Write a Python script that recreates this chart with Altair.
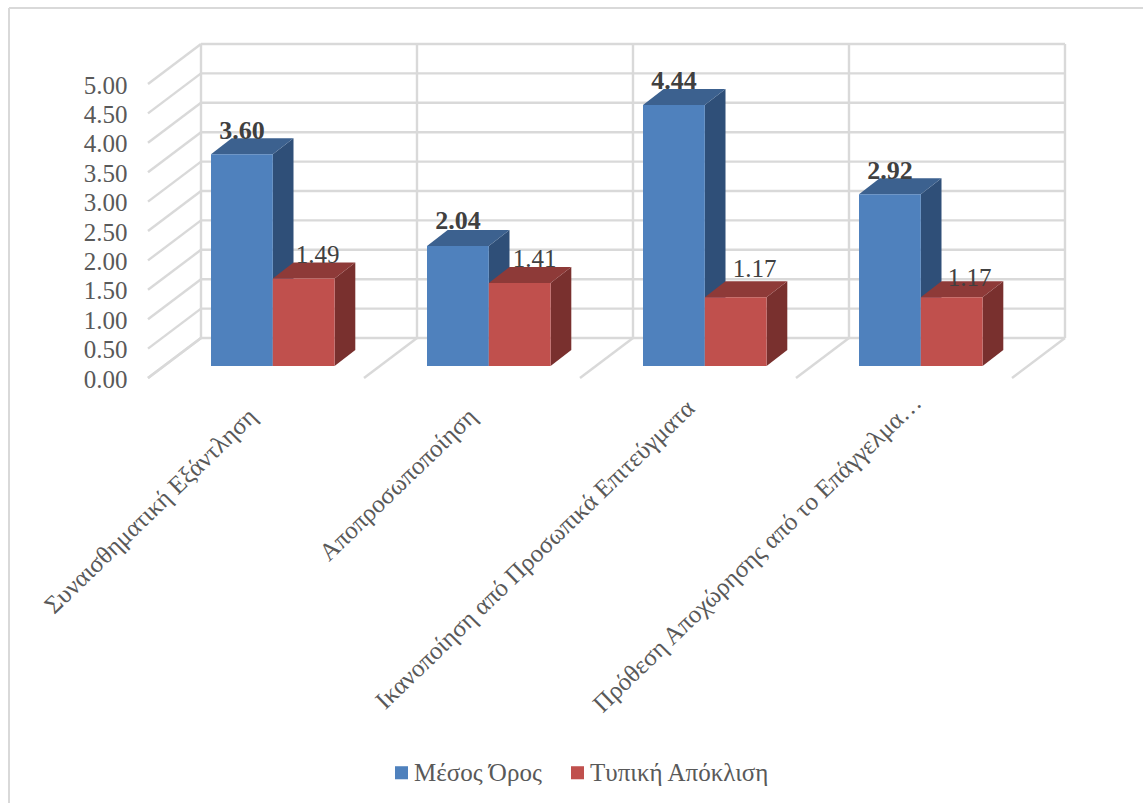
import json
import altair as alt
import pandas as pd

# Chart values
categories = [
    "Συναισθηματική Εξάντληση",
    "Αποπροσωποποίηση",
    "Ικανοποίηση από Προσωπικά Επιτεύγματα",
    "Πρόθεση Αποχώρησης από το Επάγγελμα…",
]
series_names = ["Μέσος Όρος", "Τυπική Απόκλιση"]
mean_values = [3.60, 2.04, 4.44, 2.92]
sd_values = [1.49, 1.41, 1.17, 1.17]
y_ticks = [0, 0.5, 1, 1.5, 2, 2.5, 3, 3.5, 4, 4.5, 5]

# Plot area and scale factors (pixels per unit)
PLOT_W, PLOT_H = 918, 294
PX_U, PX_V = 216.0, 58.8

# Oblique projection: depth of the walls and of the bars, in data units
WALL_DX, WALL_DY = 53 / PX_U, 40 / PX_V
BAR_BASE = 12 / PX_V
BAR_LEFT = 63 / PX_U
BAR_W = 61.8 / PX_U
BAR_DX, BAR_DY = 20.7 / PX_U, 16 / PX_V

# Hand placement of the value labels, in pixels from the bar's front centre and top
mean_label_shift = [(0, 23), (0, 25), (0, 24), (0, 23)]
sd_label_shift = [(14, 23), (15, 24), (19, 28), (18, 19)]

# Hand placement of the category labels along the axis and away from it
category_shift = [-4, 0, 2, 13]
category_padding = [34, 34, 26, 20]

FONT = "Liberation Serif"
GRID = "#D9D9D9"
TEXT = "#595959"
FRONT = ["#4F81BD", "#C0504D"]
TOP = {"t0": "#3C618F", "t1": "#8E3A38"}
SIDE = {"s0": "#2F4F78", "s1": "#79302E"}

x_scale = alt.Scale(domain=[0, PLOT_W / PX_U], nice=False, zero=False)
y_scale = alt.Scale(domain=[0, 5], nice=False, zero=False)
x_axis = alt.Axis(
    title=None,
    values=[g + 0.5 + category_shift[g] / PX_U for g in range(4)],
    labelExpr=json.dumps(categories, ensure_ascii=False) + "[floor(datum.value)]",
    labelAngle=-44, labelAlign="right", labelBaseline="middle",
    labelFont=FONT, labelFontSize=25, labelColor=TEXT,
    labelPadding=alt.ExprRef(json.dumps(category_padding) + "[floor(datum.value)]"),
    labelOverlap=False, labelBound=False, labelFlush=False, labelLimit=600,
    domain=False, ticks=False, grid=False,
)
y_axis = alt.Axis(
    title=None,
    values=y_ticks, format=".2f",
    labelFont=FONT, labelFontSize=25, labelColor=TEXT, labelPadding=21, labelOffset=1,
    labelBound=False, labelFlush=False, labelOverlap=False,
    domain=False, ticks=False, grid=False,
)
X = lambda f: alt.X(f, type="quantitative", scale=x_scale, axis=x_axis)
Y = lambda f: alt.Y(f, type="quantitative", scale=y_scale, axis=y_axis)

# Wall and floor lines
walls = []
for v in y_ticks:
    walls.append(dict(x=WALL_DX, y=v + WALL_DY, x2=4 + WALL_DX, y2=v + WALL_DY))
    walls.append(dict(x=0, y=v, x2=WALL_DX, y2=v + WALL_DY))
for g in range(5):
    walls.append(dict(x=g + WALL_DX, y=WALL_DY, x2=g + WALL_DX, y2=5 + WALL_DY))
    walls.append(dict(x=g, y=0, x2=g + WALL_DX, y2=WALL_DY))
wall_layer = alt.Chart(pd.DataFrame(walls)).mark_rule(color=GRID, strokeWidth=2.4).encode(
    x=X("x"), y=Y("y"), x2="x2:Q", y2="y2:Q",
)

# Bar geometry: front, side and top faces follow from each value
fronts, sides, tops, labels = [], [], [], []
for s, (name, values, shifts) in enumerate(
    zip(series_names, [mean_values, sd_values], [mean_label_shift, sd_label_shift])
):
    for g, val in enumerate(values):
        left = g + BAR_LEFT + s * BAR_W
        right = left + BAR_W
        top = BAR_BASE + val
        key = f"{g}-{s}"
        fronts.append(dict(series=name, x=left, x2=right, y=BAR_BASE, y2=top))
        sides.append(dict(key=key, shade=f"s{s}", x=right, y=top, y2=BAR_BASE))
        sides.append(dict(key=key, shade=f"s{s}", x=right + BAR_DX, y=top + BAR_DY, y2=BAR_BASE + BAR_DY))
        tops.append(dict(key=key, shade=f"t{s}", y=top, x=left, x2=right))
        tops.append(dict(key=key, shade=f"t{s}", y=top + BAR_DY, x=left + BAR_DX, x2=right + BAR_DX))
        sx, sy = shifts[g]
        labels.append(dict(
            text=f"{val:.2f}", weight="bold" if s == 0 else "normal",
            x=(left + right) / 2 + sx / PX_U, y=top + sy / PX_V,
        ))

side_layer = alt.Chart(pd.DataFrame(sides)).mark_area(interpolate="linear").encode(
    x=X("x"), y=Y("y"), y2="y2:Q", detail="key:N",
    color=alt.Color("shade:N", legend=None,
                    scale=alt.Scale(domain=list(SIDE) + list(TOP),
                                    range=list(SIDE.values()) + list(TOP.values()))),
)
top_layer = alt.Chart(pd.DataFrame(tops)).mark_area(interpolate="linear", orient="horizontal").encode(
    y=Y("y"), x=X("x"), x2="x2:Q", detail="key:N",
    color=alt.Color("shade:N", legend=None),
)
front_layer = alt.Chart(pd.DataFrame(fronts)).mark_rect().encode(
    x=X("x"), x2="x2:Q", y=Y("y"), y2="y2:Q",
    fill=alt.Fill("series:N", scale=alt.Scale(domain=series_names, range=FRONT), legend=alt.Legend(
        title=None, orient="none", legendX=241, legendY=676, direction="horizontal", columns=2,
        symbolType="square", symbolSize=170, symbolStrokeWidth=0, columnPadding=23,
        labelFont=FONT, labelFontSize=25, labelColor=TEXT, labelOffset=0, labelLimit=400, padding=0)),
)

label_df = pd.DataFrame(labels)
label_layers = [
    alt.Chart(label_df[label_df.weight == w]).mark_text(
        font=FONT, fontSize=size, fontWeight=w, color="#404040", baseline="middle", align="center"
    ).encode(x=X("x"), y=Y("y"), text="text:N")
    for w, size in [("bold", 26), ("normal", 25)]
]

# Outer chart border: left and top edges only
border = alt.Chart(pd.DataFrame({"k": [0]}))
frame_left = border.mark_rule(color=GRID, strokeWidth=2).encode(
    x=alt.value(-139), y=alt.value(-76), y2=alt.value(719))
frame_top = border.mark_rule(color=GRID, strokeWidth=2).encode(
    y=alt.value(-76), x=alt.value(-139), x2=alt.value(995))

chart = alt.layer(
    frame_left, frame_top, wall_layer, side_layer, top_layer, front_layer, *label_layers
).properties(
    width=PLOT_W,
    height=PLOT_H,
    padding={"left": 148, "top": 84, "right": 77, "bottom": 425},
    autosize=alt.AutoSizeParams(type="none"),
    background="white",
).configure_view(stroke=None)

chart.save("out.html", embed_options={"renderer": "svg", "actions": False})
